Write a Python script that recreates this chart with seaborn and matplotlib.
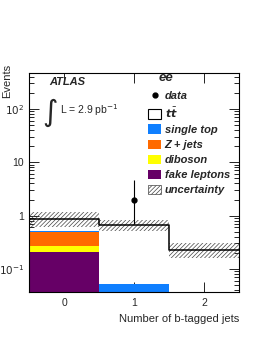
import numpy as np
import pandas as pd
import matplotlib
matplotlib.use("Agg")
import matplotlib.pyplot as plt
import matplotlib.patches as mpatches
from matplotlib.lines import Line2D
from matplotlib.ticker import FixedLocator, FuncFormatter, NullFormatter
import seaborn as sns

# values (events per bin)
n_btag = [0, 1, 2]
fake_leptons = [0.21, 0.0, 0.0]
diboson = [0.065, 0.0, 0.0]
z_jets = [0.215, 0.0, 0.0]
single_top = [0.03, 0.052, 0.0]
ttbar = [0.35, 0.62, 0.228]
unc_low = [0.61, 0.52, 0.16]
unc_high = [1.17, 0.83, 0.31]
data_x = [1]
data_y = [2]
data_err_low = [1.29]
data_err_high = [2.64]

processes = ["fake leptons", "diboson", "Z + jets", "single top"]
colors = {"fake leptons": "#660066", "diboson": "#ffff00",
          "Z + jets": "#ff6a00", "single top": "#0f7fff"}

sns.set_style("ticks")
plt.rcParams["font.family"] = ["Liberation Sans", "DejaVu Sans"]
plt.rcParams["mathtext.fontset"] = "dejavusans"
plt.rcParams["hatch.linewidth"] = 0.5

stack = pd.DataFrame({
    "nb": n_btag * len(processes),
    "process": np.repeat(processes, len(n_btag)),
    "w": np.concatenate([fake_leptons, diboson, z_jets, single_top]),
})
total = np.array(fake_leptons) + np.array(diboson) + np.array(z_jets) + np.array(single_top) + np.array(ttbar)

fig = plt.figure(figsize=(2.62, 3.39), dpi=100)
ax = fig.add_axes([29 / 262, 47 / 339, 210 / 262, 219 / 339])

# seaborn puts the first hue level on top of the stack
sns.histplot(data=stack, x="nb", weights="w", hue="process", hue_order=processes[::-1],
             palette=colors, multiple="stack", discrete=True, shrink=1,
             alpha=1, linewidth=0, legend=False, ax=ax)
sns.histplot(x=n_btag, weights=total, discrete=True, element="step", fill=False,
             color="black", linewidth=1.1, ax=ax)

ax.bar(n_btag, np.array(unc_high) - np.array(unc_low), bottom=unc_low, width=1,
       fill=False, hatch="////////", edgecolor="#444444", linewidth=0)
ax.errorbar(data_x, data_y, yerr=[data_err_low, data_err_high], fmt="o", color="black",
            ms=3.5, elinewidth=0.8, capsize=0)

ax.set_yscale("log")
ax.set_xlim(-0.5, 2.5)
ax.set_ylim(0.037, 470)
ax.set_xlabel("")
ax.set_ylabel("")
ax.xaxis.set_major_locator(FixedLocator(n_btag))
ax.yaxis.set_major_locator(FixedLocator([0.1, 1, 10, 100]))
ax.yaxis.set_major_formatter(FuncFormatter(
    lambda v, p: {0.1: "$10^{-1}$", 1: "1", 10: "10", 100: "$10^{2}$"}.get(round(v, 1), "")))
ax.yaxis.set_minor_locator(FixedLocator([m * 10.0 ** e for e in range(-2, 3) for m in range(2, 10)]))
ax.yaxis.set_minor_formatter(NullFormatter())
ax.tick_params(axis="both", which="both", direction="in", top=True, right=True,
               labelsize=7.5, color="black", width=0.6)
ax.tick_params(axis="both", which="major", length=7)
ax.tick_params(axis="y", which="minor", length=3.5)
ax.tick_params(axis="x", pad=4)
for s in ax.spines.values():
    s.set_linewidth(0.8)
    s.set_color("black")

ax.text(0.095, 0.959, "ATLAS", transform=ax.transAxes, fontsize=8, weight="bold",
        style="italic", va="center")
ax.text(0.06, 0.818, r"$\int$", transform=ax.transAxes, fontsize=15, va="center")
ax.text(0.15, 0.832, r"L = 2.9 pb$^{\mathrm{-1}}$", transform=ax.transAxes, fontsize=7.5,
        va="center")
ax.text(0.652, 0.975, "ee", transform=ax.transAxes, fontsize=9.5, weight="bold",
        style="italic", va="center", ha="center")

handles = [
    Line2D([], [], marker="o", ls="none", color="black", ms=3.5),
    mpatches.Patch(facecolor="white", edgecolor="black", linewidth=0.8),
    mpatches.Patch(facecolor=colors["single top"], edgecolor="none"),
    mpatches.Patch(facecolor=colors["Z + jets"], edgecolor="none"),
    mpatches.Patch(facecolor=colors["diboson"], edgecolor="none"),
    mpatches.Patch(facecolor=colors["fake leptons"], edgecolor="none"),
    mpatches.Patch(facecolor="white", edgecolor="#444444", hatch="////////", linewidth=0.5),
]
labels = ["data", r"$\mathbfit{t}\bar{\mathbfit{t}}$", "single top", "Z + jets", "diboson",
          "fake leptons", "uncertainty"]
ax.legend(handles, labels, loc="upper left", bbox_to_anchor=(0.567, 0.92), frameon=False,
          borderpad=0, borderaxespad=0, handlelength=1.2, handleheight=0.9,
          handletextpad=0.3, labelspacing=0.42,
          prop={"family": "Liberation Sans", "weight": "bold", "style": "italic", "size": 8})

fig.text(7 / 262, 1 - 81 / 339, "Events", rotation=90, fontsize=8, va="center", ha="center")
fig.text(239 / 262, 1 - 319 / 339, "Number of b-tagged jets", fontsize=8, va="center", ha="right")

fig.savefig("out.png", dpi=100)
